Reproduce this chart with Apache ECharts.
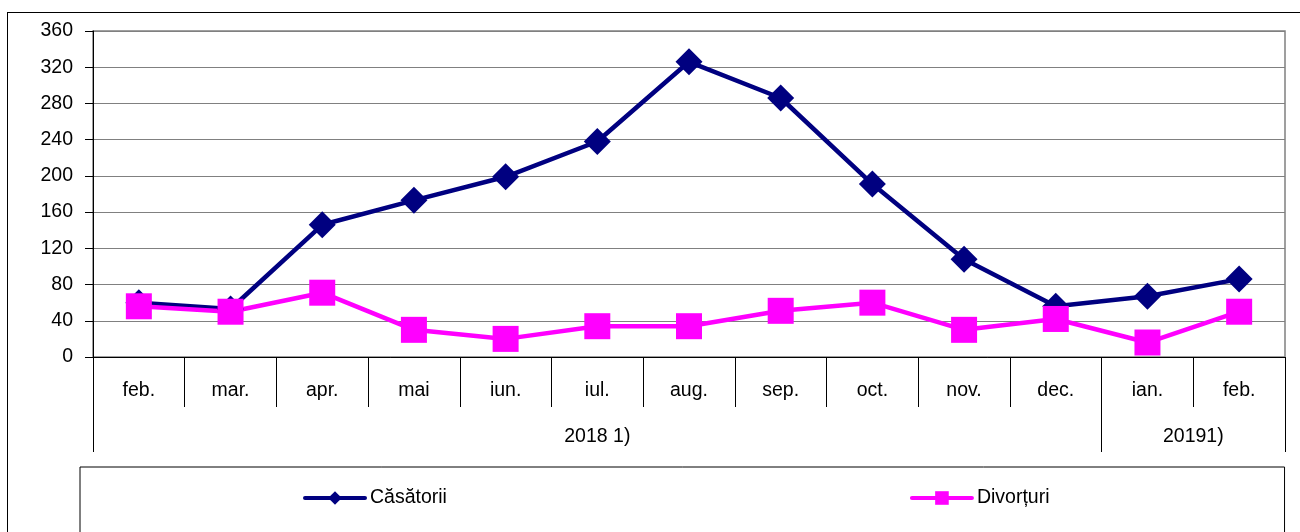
<!DOCTYPE html>
<html>
<head>
<meta charset="utf-8">
<script src="https://cdn.jsdelivr.net/npm/echarts@6/dist/echarts.min.js"></script>
<style>
  html, body { margin: 0; padding: 0; background: #fff; }
  #wrap { position: relative; width: 1300px; height: 532px; overflow: hidden; }
  #main { width: 1300px; height: 532px; }
  #frame { position: absolute; left: 7px; top: 12px; width: 1310px; height: 540px; border: 1px solid #000; pointer-events: none; box-sizing: border-box; }
</style>
</head>
<body>
<div id="wrap">
  <div id="main"></div>
  <div id="frame"></div>
</div>
<script>
// luni
var months = ['feb.', 'mar.', 'apr.', 'mai', 'iun.', 'iul.', 'aug.', 'sep.', 'oct.', 'nov.', 'dec.', 'ian.', 'feb.'];
// ani si cate luni are fiecare
var years = ['2018 1)', '20191)'];
var yearMonths = [11, 2];
// valori
var casatorii = [60, 53, 146, 173, 199, 238, 326, 286, 191, 108, 56, 67, 86];
var divorturi = [56, 50, 71, 30, 20, 34, 34, 51, 60, 30, 42, 16, 50];

// axa pe jumatati de luna pentru randul cu anii
var halfLabels = [];
var halfTicks = [0];
for (var i = 0; i <= months.length * 2; i++) halfLabels.push('');
var pos = 0;
years.forEach(function (y, k) {
  halfLabels[pos + yearMonths[k]] = y;
  pos += yearMonths[k] * 2;
  halfTicks.push(pos);
});

var font = 'Liberation Sans, Arial, sans-serif';
var fs = 19.5;
var chart = echarts.init(document.getElementById('main'));
var option = {
  animation: false,
  grid: {
    left: 93, right: 15, top: 31, bottom: 175,
    show: true, borderColor: '#808080', borderWidth: 1.5
  },
  legend: {
    left: 80, top: 467,
    padding: [21, 235, 40, 223],
    borderColor: '#000', borderWidth: 1,
    itemGap: 463, itemWidth: 60, itemHeight: 17,
    lineStyle: { width: 4, cap: 'round' },
    textStyle: { fontFamily: font, fontSize: fs, color: '#000' },
    data: ['Căsătorii', 'Divorțuri']
  },
  xAxis: [
    {
      type: 'category',
      data: months,
      boundaryGap: true,
      axisLine: { lineStyle: { color: '#000', width: 1 } },
      axisTick: { show: true, length: 50, lineStyle: { color: '#000' } },
      axisLabel: { margin: 24, color: '#000', fontFamily: font, fontSize: fs }
    },
    {
      type: 'category',
      data: halfLabels,
      boundaryGap: false,
      position: 'bottom',
      axisLine: { show: false },
      axisTick: {
        show: true, length: 95, lineStyle: { color: '#000' },
        interval: function (idx) { return halfTicks.indexOf(idx) >= 0; }
      },
      axisLabel: { interval: 0, margin: 70, color: '#000', fontFamily: font, fontSize: fs },
      splitLine: { show: false }
    }
  ],
  yAxis: {
    type: 'value',
    min: 0, max: 360, interval: 40,
    axisLine: { show: true, lineStyle: { color: '#000', width: 1 } },
    axisTick: { show: true, length: 8, lineStyle: { color: '#000' } },
    axisLabel: { margin: 20, color: '#000', fontFamily: font, fontSize: fs },
    splitLine: { lineStyle: { color: '#808080', width: 1 } }
  },
  series: [
    {
      name: 'Căsătorii',
      type: 'line',
      data: casatorii,
      symbol: 'diamond',
      symbolSize: 27,
      itemStyle: { color: '#000080' },
      lineStyle: { color: '#000080', width: 4.5 }
    },
    {
      name: 'Divorțuri',
      type: 'line',
      data: divorturi,
      symbol: 'rect',
      symbolSize: 26,
      itemStyle: { color: '#FF00FF' },
      lineStyle: { color: '#FF00FF', width: 4.5 }
    }
  ]
};
chart.setOption(option);
</script>
</body>
</html>
